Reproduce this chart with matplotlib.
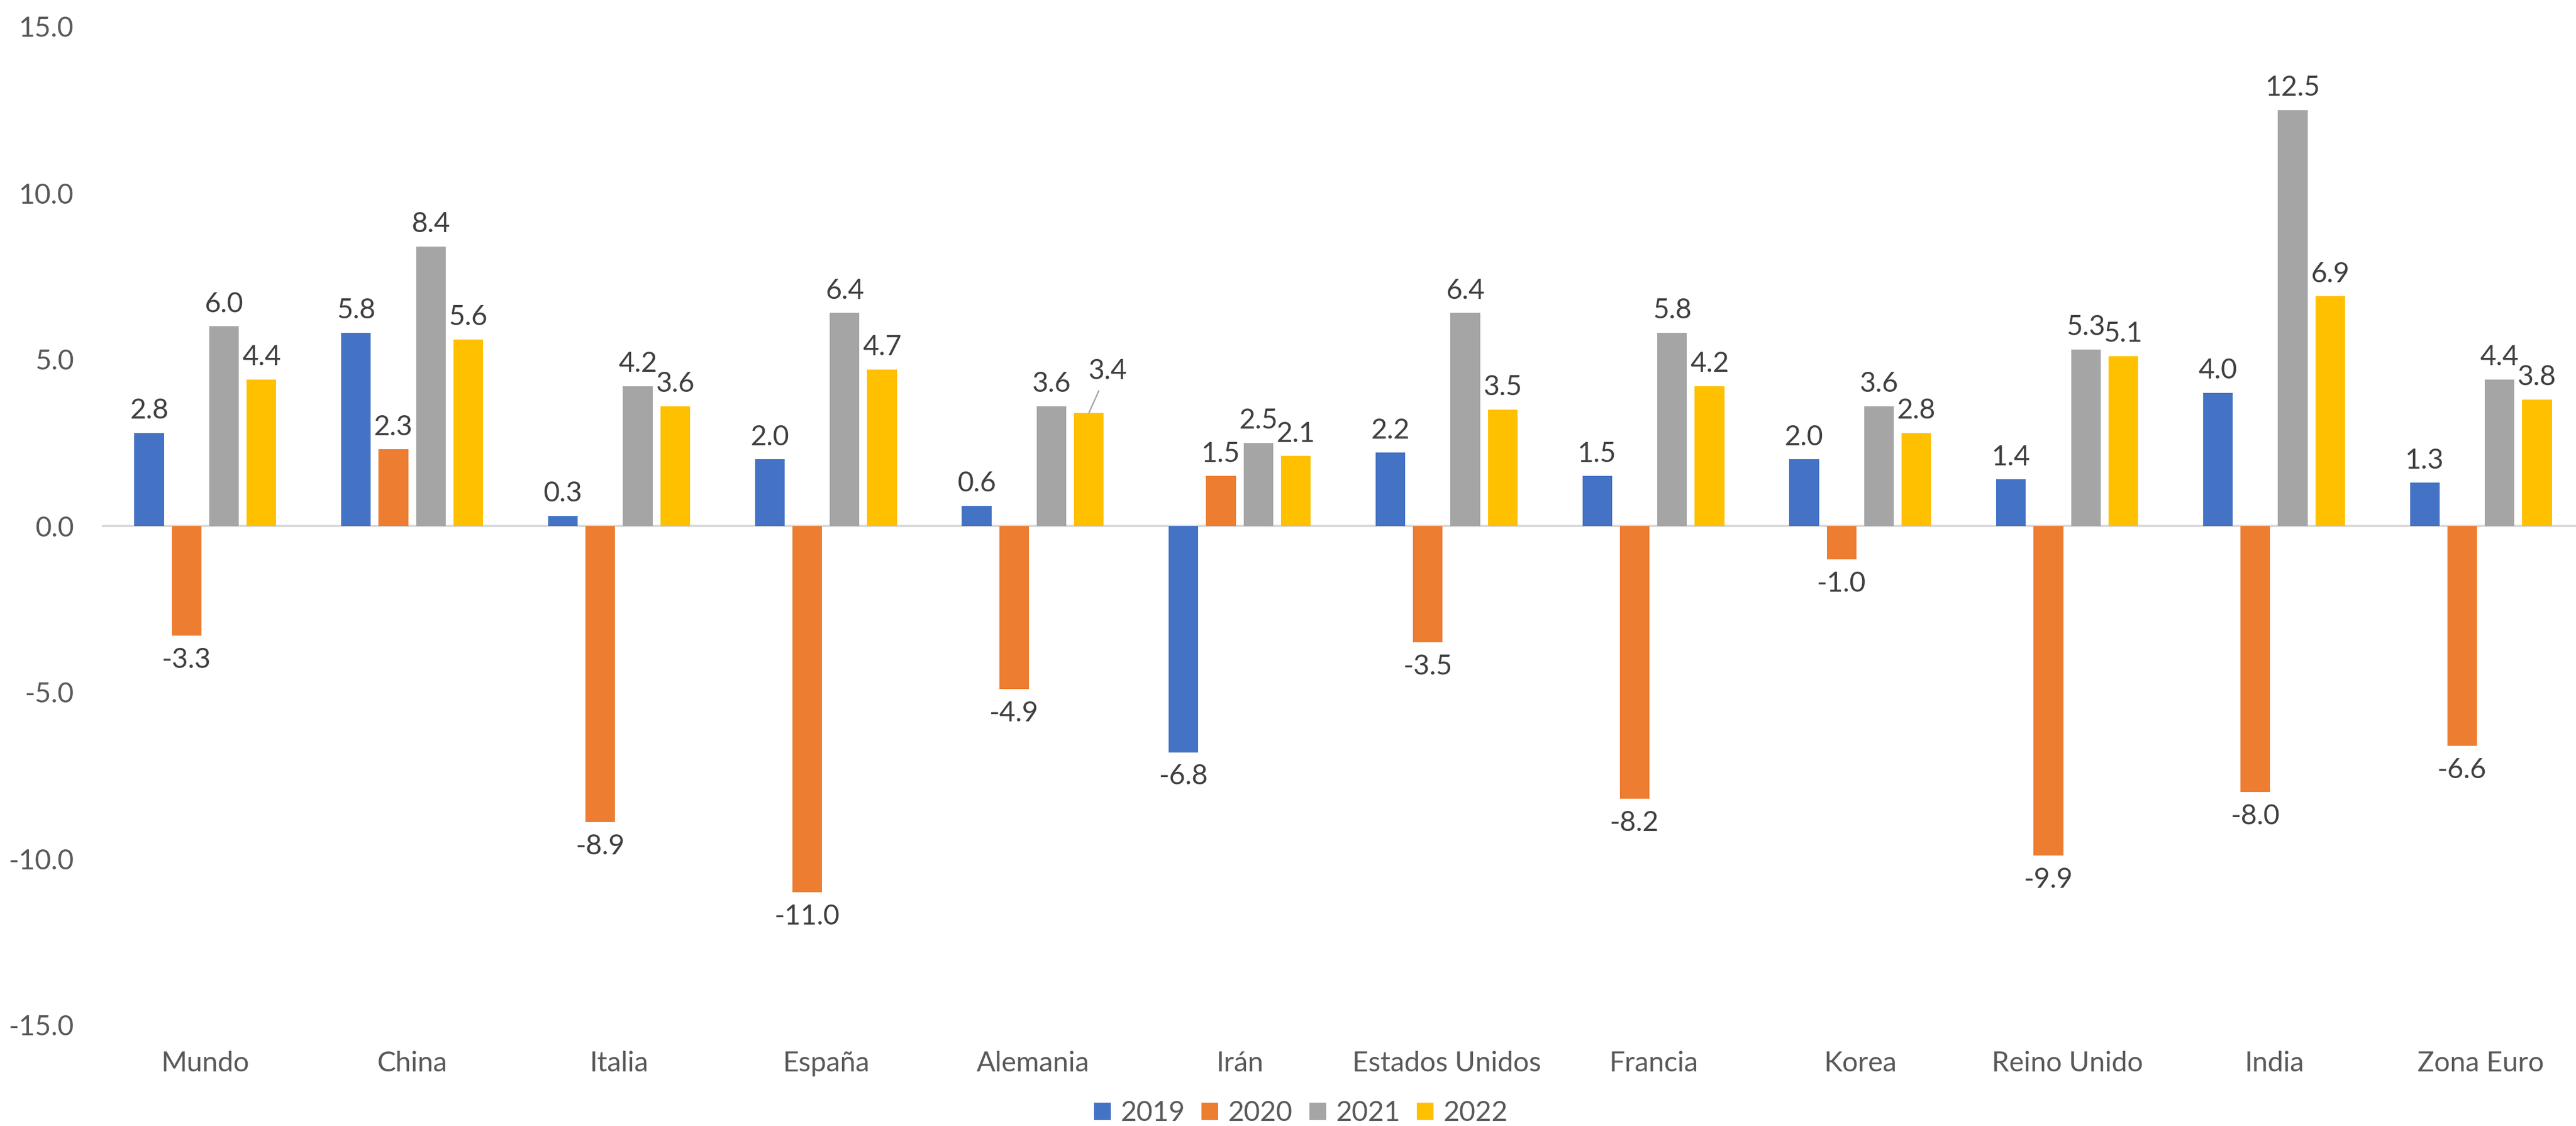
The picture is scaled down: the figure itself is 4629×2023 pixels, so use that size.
import numpy as np
import matplotlib.pyplot as plt

plt.rcParams['font.family'] = ['Lato', 'DejaVu Sans']

paises = ['Mundo', 'China', 'Italia', 'España', 'Alemania', 'Irán', 'Estados Unidos',
          'Francia', 'Korea', 'Reino Unido', 'India', 'Zona Euro']
anios = ['2019', '2020', '2021', '2022']
v2019 = [2.8, 5.8, 0.3, 2.0, 0.6, -6.8, 2.2, 1.5, 2.0, 1.4, 4.0, 1.3]
v2020 = [-3.3, 2.3, -8.9, -11.0, -4.9, 1.5, -3.5, -8.2, -1.0, -9.9, -8.0, -6.6]
v2021 = [6.0, 8.4, 4.2, 6.4, 3.6, 2.5, 6.4, 5.8, 3.6, 5.3, 12.5, 4.4]
v2022 = [4.4, 5.6, 3.6, 4.7, 3.4, 2.1, 3.5, 4.2, 2.8, 5.1, 6.9, 3.8]
colores = ['#4472C4', '#ED7D31', '#A5A5A5', '#FFC000']

series = [v2019, v2020, v2021, v2022]

W, H = 4629, 2023
fig = plt.figure(figsize=(W / 300, H / 300), dpi=300)
# area de trazado en pixeles: x 183..4644, y 48..1842
ax = fig.add_axes([183 / W, 1 - 1842 / H, (4644 - 183) / W, (1842 - 48) / H])

x = np.arange(len(paises))
ancho = 0.143
paso = 0.181
tc = '#595959'
lc = '#404040'
fs = 12

for i, (vals, anio, col) in enumerate(zip(series, anios, colores)):
    pos = x + (i - 1.5) * paso
    bars = ax.bar(pos, vals, ancho, color=col, label=anio, zorder=2)
    for j, (b, v) in enumerate(zip(bars, vals)):
        cx = b.get_x() + b.get_width() / 2
        if anio == '2022' and paises[j] == 'Alemania':
            # etiqueta desplazada con linea guia
            ax.annotate(f'{v:.1f}', xy=(cx, v), xytext=(cx + 0.09, v + 1.25),
                        ha='center', va='center', fontsize=fs, color=lc,
                        arrowprops=dict(arrowstyle='-', color='#A6A6A6', lw=0.6,
                                        shrinkA=1, shrinkB=0))
            continue
        if v >= 0:
            ax.annotate(f'{v:.1f}', xy=(cx, v), xytext=(0, 4), textcoords='offset points',
                        ha='center', va='bottom', fontsize=fs, color=lc)
        else:
            ax.annotate(f'{v:.1f}', xy=(cx, v), xytext=(0, -5), textcoords='offset points',
                        ha='center', va='top', fontsize=fs, color=lc)

ax.axhline(0, color='#D9D9D9', lw=1.0, zorder=1)
ax.set_ylim(-15, 15)
ax.set_xlim(-0.5, len(paises) - 0.5)
yt = [-15, -10, -5, 0, 5, 10, 15]
ax.set_yticks(yt)
ax.set_yticklabels([f'{t:.1f}' for t in yt])
ax.set_xticks(x)
ax.set_xticklabels(paises)
ax.tick_params(axis='both', length=0, labelsize=fs, colors=tc)
ax.tick_params(axis='x', pad=11)
ax.tick_params(axis='y', pad=12)
for s in ax.spines.values():
    s.set_visible(False)

leg = fig.legend(*ax.get_legend_handles_labels(), loc='center', bbox_to_anchor=(0.505, 1 - 2000 / H),
                 ncol=4, frameon=False, fontsize=fs, handlelength=0.6, handleheight=0.6,
                 handletextpad=0.35, columnspacing=0.6)
for t in leg.get_texts():
    t.set_color(tc)

fig.savefig('out.png', dpi=300)
